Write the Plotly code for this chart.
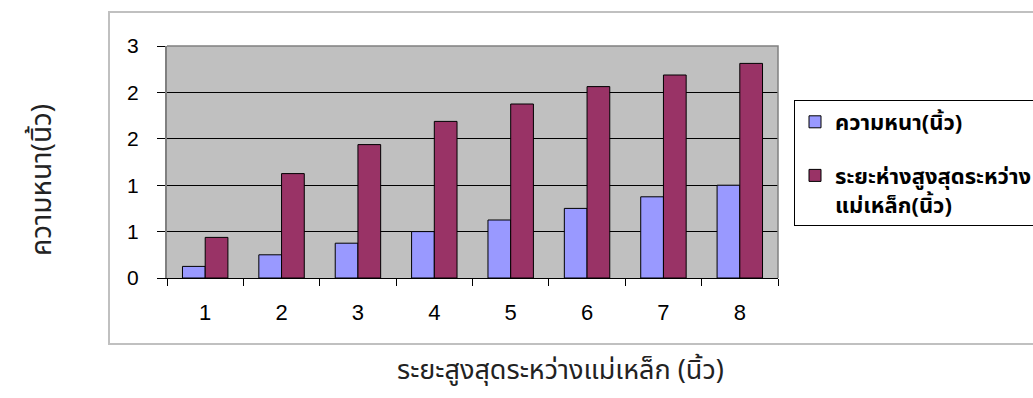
import plotly.graph_objects as go

# Distance categories (inches) and the two measured series
categories = ["1", "2", "3", "4", "5", "6", "7", "8"]
thickness = [0.125, 0.25, 0.375, 0.5, 0.625, 0.75, 0.875, 1.0]
max_gap = [0.4375, 1.125, 1.4375, 1.6875, 1.875, 2.0625, 2.1875, 2.3125]

# Y axis ticks (labels are rounded to whole numbers)
y_tickvals = [0, 0.5, 1.0, 1.5, 2.0, 2.5]
y_ticktext = ["0", "1", "1", "2", "2", "3"]

name_thickness = "<b>ความหนา(นิ้ว)</b>"
name_gap = "<b>ระยะห่างสูงสุดระหว่าง<br>แม่เหล็ก(นิ้ว)</b>"
x_title = "ระยะสูงสุดระหว่างแม่เหล็ก (นิ้ว)"
y_title = "ความหนา(นิ้ว)"

W, H = 1033, 398
L, R, T, B = 167, W - 778, 46, H - 278
PW, PH = W - L - R, H - T - B

def px_x(x):
    return (x - L) / PW

def px_y(y):
    return (H - B - y) / PH

thai_font = "Tahoma, 'Noto Sans Thai', 'Noto Sans', sans-serif"
num_font = "Arial, 'Liberation Sans', sans-serif"

fig = go.Figure()
fig.add_trace(go.Bar(
    x=categories, y=thickness, name=name_thickness, legendgroup="a",
    marker=dict(color="#9999FF", line=dict(color="#000000", width=1)),
))
fig.add_trace(go.Bar(
    x=categories, y=max_gap, name=name_gap, legendgroup="b",
    marker=dict(color="#993366", line=dict(color="#000000", width=1)),
))

fig.update_layout(
    width=W, height=H,
    margin=dict(l=L, r=R, t=T, b=B, autoexpand=False),
    paper_bgcolor="white",
    plot_bgcolor="#C0C0C0",
    barmode="group",
    bargap=0.405,
    bargroupgap=0,
    showlegend=True,
    legend=dict(
        x=px_x(794), y=px_y(100), xanchor="left", yanchor="top",
        bordercolor="#000000", borderwidth=1, bgcolor="white",
        font=dict(family=thai_font, size=22, color="#000000"),
        tracegroupgap=22, valign="top", itemwidth=30,
    ),
    xaxis=dict(
        type="category",
        tickson="boundaries",
        ticks="outside", ticklen=7, tickcolor="#000000", tickwidth=1,
        showline=True, linecolor="#000000", linewidth=1,
        showgrid=False, zeroline=False,
        tickfont=dict(family=num_font, size=22, color="#000000"),
        ticklabelstandoff=15,
    ),
    yaxis=dict(
        range=[0, 2.5],
        tickvals=y_tickvals, ticktext=y_ticktext,
        ticks="outside", ticklen=8, tickcolor="#000000", tickwidth=1,
        showline=True, linecolor="#808080", linewidth=2,
        showgrid=True, gridcolor="#000000", gridwidth=1,
        zeroline=False,
        tickfont=dict(family=num_font, size=21, color="#000000"),
        ticklabelstandoff=14,
    ),
    shapes=[
        # outer chart frame
        dict(type="rect", xref="paper", yref="paper",
             x0=px_x(109), x1=px_x(1045), y0=px_y(344), y1=px_y(12),
             line=dict(color="#C0C0C0", width=2), layer="below"),
        # plot area border (top and right)
        dict(type="path", xref="paper", yref="paper",
             path="M 0,1 L 1,1 L 1,0",
             line=dict(color="#808080", width=1.5), layer="above"),
    ],
    annotations=[
        dict(text=x_title, xref="paper", yref="paper",
             x=px_x(560), y=px_y(370), showarrow=False,
             xanchor="center", yanchor="middle",
             font=dict(family=thai_font, size=27, color="#222222")),
        dict(text=y_title, xref="paper", yref="paper",
             x=px_x(42), y=px_y(180), showarrow=False, textangle=-90,
             xanchor="center", yanchor="middle",
             font=dict(family=thai_font, size=28, color="#222222")),
    ],
)

fig.write_html("out.html")
